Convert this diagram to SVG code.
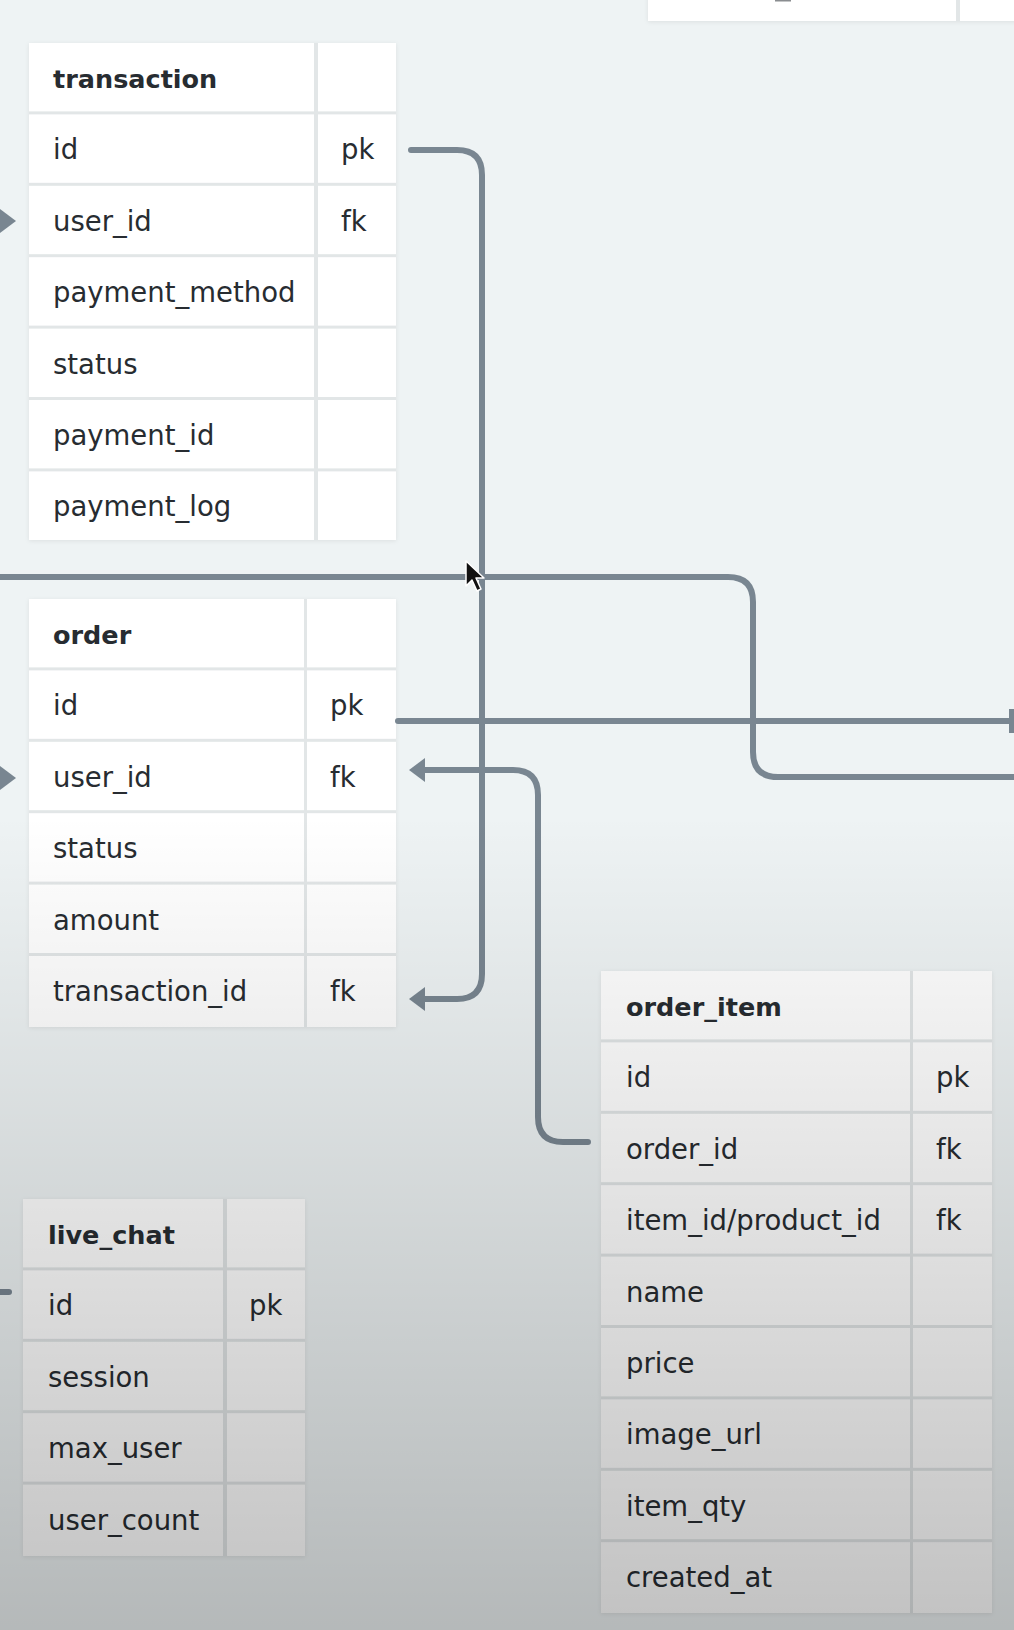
<svg xmlns="http://www.w3.org/2000/svg" width="1014" height="1630" viewBox="0 0 1014 1630">
  <style>
    .tbl { fill: #e2e6e7; filter: url(#shadow); }
    .cell { fill: #ffffff; }
    .t { font-family: "DejaVu Sans", "Liberation Sans", sans-serif; font-size: 27.5px; fill: #272c31; }
    .h { font-family: "DejaVu Sans", "Liberation Sans", sans-serif; font-size: 25.5px; font-weight: bold; fill: #272c31; }
    .link { fill: none; stroke: #798691; stroke-width: 6; stroke-linecap: round; stroke-linejoin: round; }
    .plain { fill: none; stroke: #798691; stroke-width: 6; stroke-linecap: butt; }
  </style>
  <defs>
    <filter id="shadow" x="-5%" y="-5%" width="110%" height="110%">
      <feDropShadow dx="0" dy="1" stdDeviation="2" flood-color="#000" flood-opacity="0.08"/>
    </filter>
    <marker id="head" markerUnits="userSpaceOnUse" viewBox="0 0 16 24" markerWidth="16" markerHeight="24" refX="0" refY="12" orient="auto">
      <path d="M0,0 L16,12 L0,24 Z" fill="#798691"/>
    </marker>
    <linearGradient id="dim" x1="0" y1="0" x2="0" y2="1">
      <stop offset="0" stop-color="#000" stop-opacity="0"/>
      <stop offset="0.5" stop-color="#000" stop-opacity="0"/>
      <stop offset="1" stop-color="#000" stop-opacity="0.24"/>
    </linearGradient>
  </defs>

  <rect x="0" y="0" width="1014" height="1630" fill="#eef3f4"/>

  <!-- table cut off at the top edge -->
  <g id="table-top">
    <rect class="tbl" x="648" y="-60" width="380" height="81"/>
    <rect class="cell" x="648" y="-60" width="308" height="81"/>
    <rect class="cell" x="960" y="-60" width="70" height="81"/>
    <rect x="775" y="0" width="16" height="1.5" fill="#8a8d90"/>
  </g>

  <!-- transaction -->
  <g id="transaction" transform="translate(29,43)">
    <rect class="tbl" x="0" y="0" width="367" height="497"/>
    <rect class="cell" x="0" y="0" width="285" height="68.4"/><rect class="cell" x="289" y="0" width="78" height="68.4"/>
    <rect class="cell" x="0" y="71.4" width="285" height="68.4"/><rect class="cell" x="289" y="71.4" width="78" height="68.4"/>
    <rect class="cell" x="0" y="142.8" width="285" height="68.4"/><rect class="cell" x="289" y="142.8" width="78" height="68.4"/>
    <rect class="cell" x="0" y="214.2" width="285" height="68.4"/><rect class="cell" x="289" y="214.2" width="78" height="68.4"/>
    <rect class="cell" x="0" y="285.6" width="285" height="68.4"/><rect class="cell" x="289" y="285.6" width="78" height="68.4"/>
    <rect class="cell" x="0" y="357" width="285" height="68.4"/><rect class="cell" x="289" y="357" width="78" height="68.4"/>
    <rect class="cell" x="0" y="428.4" width="285" height="68.6"/><rect class="cell" x="289" y="428.4" width="78" height="68.6"/>
    <text class="h" x="24" y="45">transaction</text>
    <text class="t" x="24" y="116.4">id</text><text class="t" x="312" y="116.4">pk</text>
    <text class="t" x="24" y="187.8">user_id</text><text class="t" x="312" y="187.8">fk</text>
    <text class="t" x="24" y="259.2">payment_method</text>
    <text class="t" x="24" y="330.6">status</text>
    <text class="t" x="24" y="402">payment_id</text>
    <text class="t" x="24" y="473.4">payment_log</text>
  </g>

  <!-- order -->
  <g id="order" transform="translate(29,599)">
    <rect class="tbl" x="0" y="0" width="367" height="428"/>
    <rect class="cell" x="0" y="0" width="275" height="68.4"/><rect class="cell" x="278" y="0" width="89" height="68.4"/>
    <rect class="cell" x="0" y="71.4" width="275" height="68.4"/><rect class="cell" x="278" y="71.4" width="89" height="68.4"/>
    <rect class="cell" x="0" y="142.8" width="275" height="68.4"/><rect class="cell" x="278" y="142.8" width="89" height="68.4"/>
    <rect class="cell" x="0" y="214.2" width="275" height="68.4"/><rect class="cell" x="278" y="214.2" width="89" height="68.4"/>
    <rect class="cell" x="0" y="285.6" width="275" height="68.4"/><rect class="cell" x="278" y="285.6" width="89" height="68.4"/>
    <rect class="cell" x="0" y="357" width="275" height="71"/><rect class="cell" x="278" y="357" width="89" height="71"/>
    <text class="h" x="24" y="45">order</text>
    <text class="t" x="24" y="116.4">id</text><text class="t" x="301" y="116.4">pk</text>
    <text class="t" x="24" y="187.8">user_id</text><text class="t" x="301" y="187.8">fk</text>
    <text class="t" x="24" y="259.2">status</text>
    <text class="t" x="24" y="330.6">amount</text>
    <text class="t" x="24" y="402">transaction_id</text><text class="t" x="301" y="402">fk</text>
  </g>

  <!-- order_item -->
  <g id="order_item" transform="translate(601,971)">
    <rect class="tbl" x="0" y="0" width="391" height="642"/>
    <rect class="cell" x="0" y="0" width="309" height="68.4"/><rect class="cell" x="312" y="0" width="79" height="68.4"/>
    <rect class="cell" x="0" y="71.4" width="309" height="68.4"/><rect class="cell" x="312" y="71.4" width="79" height="68.4"/>
    <rect class="cell" x="0" y="142.8" width="309" height="68.4"/><rect class="cell" x="312" y="142.8" width="79" height="68.4"/>
    <rect class="cell" x="0" y="214.2" width="309" height="68.4"/><rect class="cell" x="312" y="214.2" width="79" height="68.4"/>
    <rect class="cell" x="0" y="285.6" width="309" height="68.4"/><rect class="cell" x="312" y="285.6" width="79" height="68.4"/>
    <rect class="cell" x="0" y="357" width="309" height="68.4"/><rect class="cell" x="312" y="357" width="79" height="68.4"/>
    <rect class="cell" x="0" y="428.4" width="309" height="68.4"/><rect class="cell" x="312" y="428.4" width="79" height="68.4"/>
    <rect class="cell" x="0" y="499.8" width="309" height="68.4"/><rect class="cell" x="312" y="499.8" width="79" height="68.4"/>
    <rect class="cell" x="0" y="571.2" width="309" height="70.8"/><rect class="cell" x="312" y="571.2" width="79" height="70.8"/>
    <text class="h" x="25" y="45">order_item</text>
    <text class="t" x="25" y="116.4">id</text><text class="t" x="335" y="116.4">pk</text>
    <text class="t" x="25" y="187.8">order_id</text><text class="t" x="335" y="187.8">fk</text>
    <text class="t" x="25" y="259.2">item_id/product_id</text><text class="t" x="335" y="259.2">fk</text>
    <text class="t" x="25" y="330.6">name</text>
    <text class="t" x="25" y="402">price</text>
    <text class="t" x="25" y="473.4">image_url</text>
    <text class="t" x="25" y="544.8">item_qty</text>
    <text class="t" x="25" y="616.2">created_at</text>
  </g>

  <!-- live_chat -->
  <g id="live_chat" transform="translate(23,1199)">
    <rect class="tbl" x="0" y="0" width="282" height="357"/>
    <rect class="cell" x="0" y="0" width="200" height="68.4"/><rect class="cell" x="204" y="0" width="78" height="68.4"/>
    <rect class="cell" x="0" y="71.4" width="200" height="68.4"/><rect class="cell" x="204" y="71.4" width="78" height="68.4"/>
    <rect class="cell" x="0" y="142.8" width="200" height="68.4"/><rect class="cell" x="204" y="142.8" width="78" height="68.4"/>
    <rect class="cell" x="0" y="214.2" width="200" height="68.4"/><rect class="cell" x="204" y="214.2" width="78" height="68.4"/>
    <rect class="cell" x="0" y="285.6" width="200" height="71.4"/><rect class="cell" x="204" y="285.6" width="78" height="71.4"/>
    <text class="h" x="25" y="45">live_chat</text>
    <text class="t" x="25" y="116.4">id</text><text class="t" x="226" y="116.4">pk</text>
    <text class="t" x="25" y="187.8">session</text>
    <text class="t" x="25" y="259.2">max_user</text>
    <text class="t" x="25" y="330.6">user_count</text>
  </g>

  <!-- relationship lines -->
  <g id="connectors">
    <!-- transaction.id -> order.transaction_id -->
    <path class="link" d="M411,150 H457 Q482,150 482,175 V974 Q482,999 457,999 H425" marker-end="url(#head)"/>
    <!-- order_item.order_id -> order.user_id -->
    <path class="link" d="M588,1142 H563 Q538,1142 538,1117 V795 Q538,770 513,770 H425" marker-end="url(#head)"/>
    <!-- line passing between transaction and order -->
    <path class="link" d="M-10,577 H728 Q753,577 753,602 V752 Q753,777 778,777 H1024"/>
    <!-- order.id out to the right -->
    <path class="link" d="M398,721 H1011"/>
    <path class="plain" d="M1012,709 V733" stroke-width="4"/>
    <!-- incoming arrows at the left edge -->
    <path class="plain" d="M-30,221 H0" marker-end="url(#head)"/>
    <path class="plain" d="M-30,778 H0" marker-end="url(#head)"/>
    <!-- stub into live_chat.id -->
    <path class="link" d="M-10,1292 H9"/>
  </g>

  <!-- pointer -->
  <path d="M466,561 L466,586 L472,580 L477,591 L481,589 L476,578 L484,578 Z" fill="#111" stroke="#fff" stroke-width="1.5" stroke-linejoin="round"/>

  <!-- darkening toward the bottom -->
  <rect x="0" y="0" width="1014" height="1630" fill="url(#dim)"/>
</svg>
